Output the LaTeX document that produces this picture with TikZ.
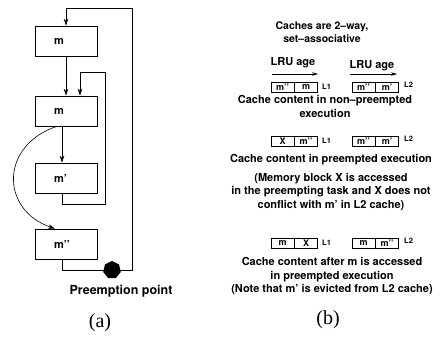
\documentclass[tikz,border=0pt]{standalone}
\usepackage{fontspec}
\setmainfont{TeX Gyre Heros}
\newfontfamily\capfont{Liberation Serif}
\usetikzlibrary{positioning,shapes.geometric,arrows.meta}
\begin{document}
\begin{tikzpicture}[x=1pt,y=-1pt,line width=0.6pt,>={Stealth[length=7pt,width=4.5pt]},
		blk/.style={draw,minimum height=30pt,text width=24pt,inner xsep=19pt,inner ysep=0pt,align=left,font=\fontsize{11}{13}\selectfont\bfseries},
		cell/.style={draw,minimum width=23pt,minimum height=10pt,inner sep=0pt,font=\fontsize{9}{9}\selectfont\bfseries},
		lvl/.style={inner sep=0pt,font=\fontsize{7.5}{8}\selectfont\bfseries},
		txt/.style={align=center,inner sep=0pt,font=\fontsize{11}{13.5}\selectfont\bfseries}]
	\useasboundingbox (0,0) rectangle (443,338);
	\node[blk] (b1) at (66,41) {m};
	\node[blk] (b2) at (66,111) {m};
	\node[blk] (b3) at (66,178) {m’};
	\node[blk] (b4) at (66,244) {m’’};
	\coordinate (in1) at (105,204); \coordinate (in2) at (105,72);
	\coordinate (out1) at (132,270); \coordinate (out2) at (132,8);
	\draw[->] (b1) -- (b2);
	\draw[->] ([xshift=-4pt]b2.south) -- ([xshift=-4pt]b3.north);
	\draw[->] ([xshift=-4pt]b3.south) |- (in1) -- (in2) -| ([xshift=14pt]b2.north);
	\draw[->] ([xshift=-4pt]b4.south) |- (out1) -- (out2) -| (b1);
	\draw[->] ([xshift=-9pt]b2.south) .. controls +(-57,19) and +(-55,-19) .. ([xshift=-11pt]b4.north);
	\node[regular polygon,regular polygon sides=7,fill,inner sep=0pt,minimum size=18pt] (pp) at (112,270) {};
	\node[inner sep=0pt,font=\fontsize{12.5}{14}\selectfont\bfseries] (ppl) at (121,291) {Preemption point};
	\node[font=\capfont\fontsize{20}{20}\selectfont,inner sep=0pt] (capa) at (100,323) {(a)};
	\node[txt,font=\fontsize{10.5}{13.5}\selectfont\bfseries] (title) at (322,32) {Caches are 2–way,\\set–associative};
	\node[txt] (age1) at (293,63) {LRU age};
	\node[txt] (age2) at (372,66) {LRU age};
	\coordinate (a1s) at (272,74); \coordinate (a1e) at (318,74);
	\coordinate (a2s) at (350,74); \coordinate (a2e) at (397,74);
	\draw[->,>={Stealth[length=6pt,width=3.5pt]}] (a1s) -- (a1e);
	\draw[->,>={Stealth[length=6pt,width=3.5pt]}] (a2s) -- (a2e);
	\foreach \r/\y/\a/\b/\c/\d in {1/87/m’’/m/m’’/m’,2/141/X/m’’/m’’/m’,3/243/m/X/m/m’’}{
		\node[cell] (p\r) at (282.5,\y) {\a};
		\node[cell,right=0pt of p\r] (q\r) {\b};
		\node[lvl,right=4pt of q\r] (l\r) {L1};
		\node[cell] (s\r) at (363.5,\y) {\c};
		\node[cell,right=0pt of s\r] (u\r) {\d};
		\node[lvl,right=5pt of u\r,yshift=2.5pt] (m\r) {L2};
	}
	\node[txt] (t1) at (325,106.5) {Cache content in non–preempted\\execution};
	\node[txt] (t2) at (331,160) {Cache content in preempted execution};
	\node[txt] (t3) at (331,191.5) {(Memory block X is accessed\\in the preempting task and X does not\\conflict with m’ in L2 cache)};
	\node[txt] (t4) at (332,276) {Cache content after m is accessed\\in preempted execution\\(Note that m’ is evicted from L2 cache)};
	\node[font=\capfont\fontsize{20}{20}\selectfont,inner sep=0pt] (capb) at (328,320) {(b)};
\end{tikzpicture}
\end{document}
